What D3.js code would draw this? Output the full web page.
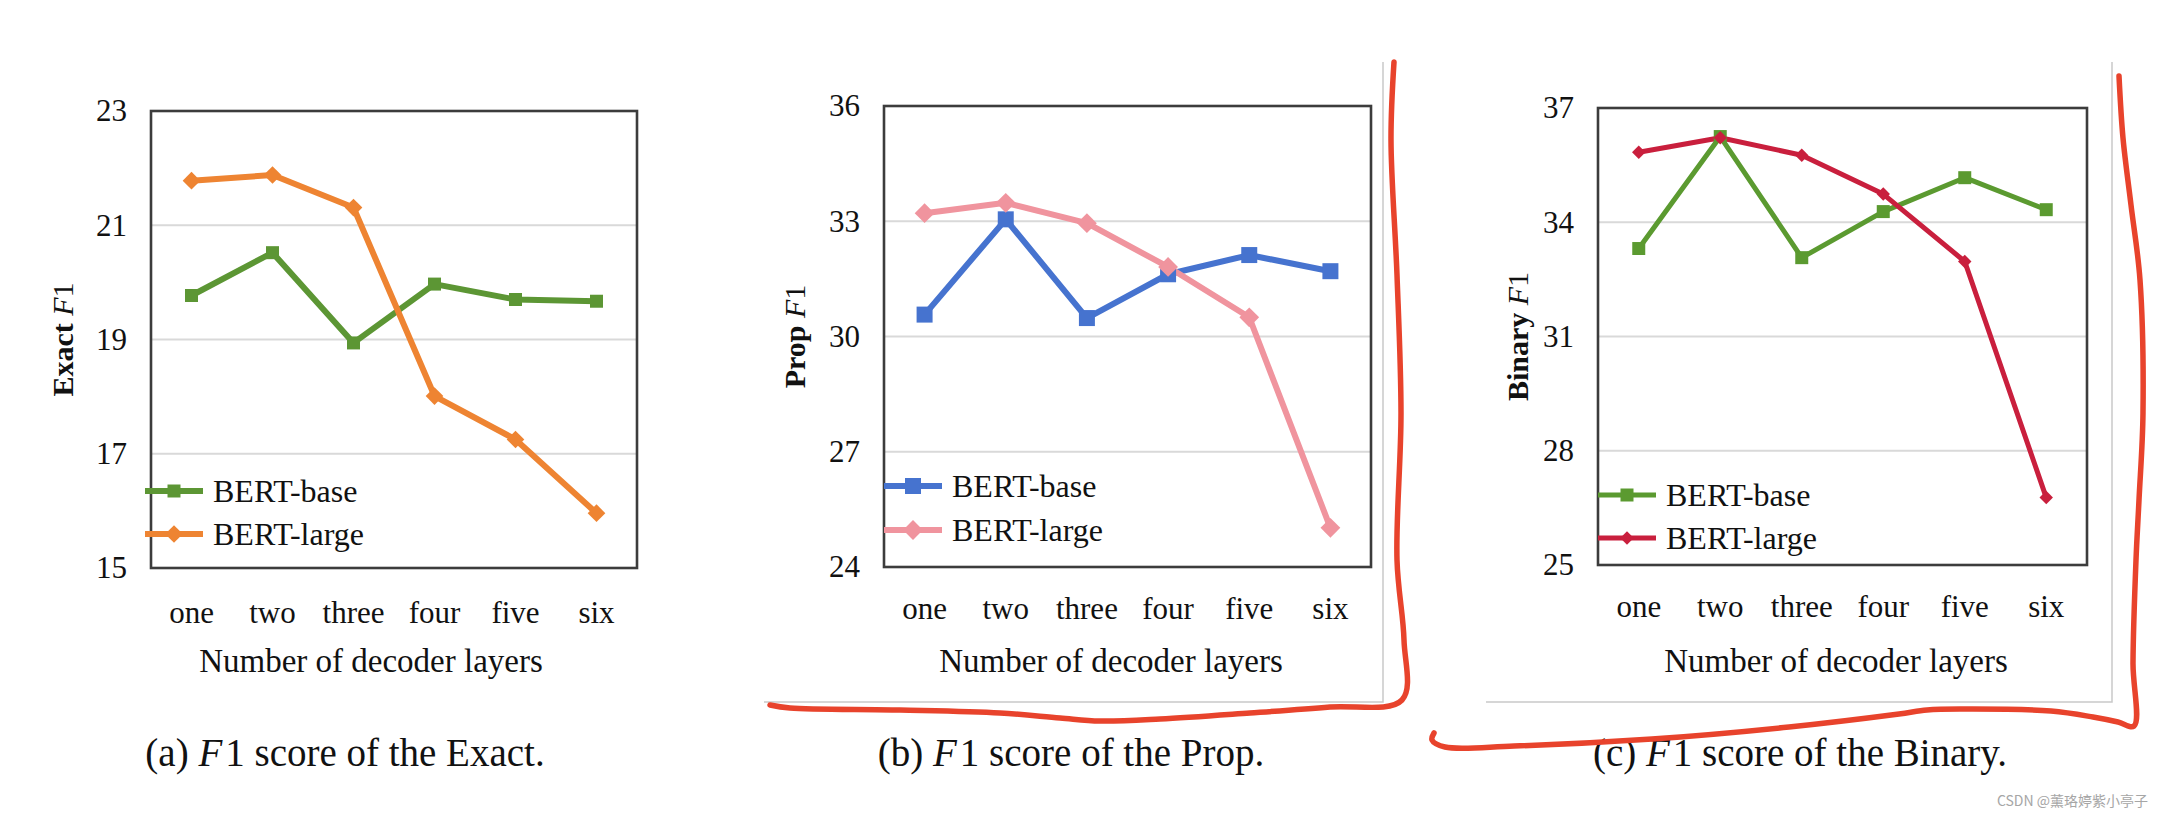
<!DOCTYPE html>
<html>
<head>
<meta charset="utf-8">
<script src="https://cdn.jsdelivr.net/npm/d3@7"></script>
<style>
  html, body { margin: 0; padding: 0; background: #ffffff; }
  svg { display: block; }
  text { font-family: "Times New Roman", "Liberation Serif", serif; fill: #111; }
</style>
</head>
<body>
<svg id="chart" width="2158" height="824"></svg>
<script>
// ---------------- data ----------------
const categories = ["one", "two", "three", "four", "five", "six"];
const seriesNames = ["BERT-base", "BERT-large"];

const exactBase  = [19.77, 20.52, 18.94, 19.97, 19.70, 19.67];
const exactLarge = [21.78, 21.88, 21.31, 18.01, 17.25, 15.96];

const propBase   = [30.57, 33.05, 30.48, 31.62, 32.12, 31.70];
const propLarge  = [33.21, 33.48, 32.95, 31.81, 30.50, 25.02];

const binaryBase  = [33.31, 36.25, 33.07, 34.28, 35.17, 34.33];
const binaryLarge = [35.84, 36.22, 35.76, 34.74, 32.97, 26.77];

const exactTicks  = [15, 17, 19, 21, 23];
const propTicks   = [24, 27, 30, 33, 36];
const binaryTicks = [25, 28, 31, 34, 37];

const yTitles  = ["Exact", "Prop", "Binary"];
const xTitle   = "Number of decoder layers";
const captions = ["(a) ", "(b) ", "(c) "];
const captionTails = ["1 score of the Exact.", "1 score of the Prop.", "1 score of the Binary."];

// ---------------- layout / style ----------------
const panels = [
  { base: exactBase, large: exactLarge, ticks: exactTicks, yTitle: yTitles[0],
    box: { l: 151, r: 637, t: 111, b: 568 },
    colors: ["#5c9634", "#ee8432"], lw: 6, sq: 13, dm: 12.5,
    tickBase: 623, xTitleX: 371, yTitleX: 62, legendY: [491, 534], legendX: 145,
    captionX: 345, frame: null },
  { base: propBase, large: propLarge, ticks: propTicks, yTitle: yTitles[1],
    box: { l: 884, r: 1371, t: 106, b: 567 },
    colors: ["#4673cf", "#f0949e"], lw: 6, sq: 16, dm: 14,
    tickBase: 619, xTitleX: 1111, yTitleX: 794, legendY: [486, 530], legendX: 884,
    captionX: 1071, frame: { l: 764, r: 1383, t: 62, b: 702 } },
  { base: binaryBase, large: binaryLarge, ticks: binaryTicks, yTitle: yTitles[2],
    box: { l: 1598, r: 2087, t: 108, b: 565 },
    colors: ["#5b9a30", "#c91f3d"], lw: 5, sq: 13, dm: 9.5,
    tickBase: 617, xTitleX: 1836, yTitleX: 1517, legendY: [495, 538], legendX: 1598,
    captionX: 1800, frame: { l: 1486, r: 2112, t: 62, b: 702 } }
];

// hand-drawn red annotation strokes (decoration, not data)
const annoStroke1 = [[1394, 62], [1391, 140], [1397, 275], [1401, 413], [1397, 560], [1404, 640],
  [1402, 700], [1330, 707], [1250, 713], [1160, 719], [1100, 721], [1060, 718], [1000, 713],
  [900, 710], [790, 708], [770, 705]];
const annoStroke2 = [[2119, 76], [2123, 138], [2131, 205], [2140, 280], [2143, 413], [2139, 500],
  [2136, 560], [2133, 663], [2134, 726], [2118, 722], [2093, 717], [2051, 711], [1960, 709],
  [1927, 710], [1899, 714], [1789, 727], [1652, 739], [1514, 746], [1445, 747], [1432, 740], [1434, 733]];

const svg = d3.select("#chart");

panels.forEach((p, i) => {
  const g = svg.append("g");
  const x = d3.scaleBand().domain(categories).range([p.box.l, p.box.r]);
  const y = d3.scaleLinear().domain([p.ticks[0], p.ticks[p.ticks.length - 1]]).range([p.box.b, p.box.t]);
  const cx = d => x(d) + x.bandwidth() / 2;

  // outer light chart-area frame (right and bottom edges visible)
  if (p.frame) {
    g.append("path")
      .attr("d", `M${p.frame.r},${p.frame.t}V${p.frame.b}H${p.frame.l}`)
      .attr("fill", "none").attr("stroke", "#c9c9c9").attr("stroke-width", 1.5);
  }

  // gridlines
  g.selectAll(".grid").data(p.ticks.slice(1, -1)).join("line")
    .attr("x1", p.box.l).attr("x2", p.box.r)
    .attr("y1", d => y(d)).attr("y2", d => y(d))
    .attr("stroke", "#d9d9d9").attr("stroke-width", 2.2);

  // y axis labels
  const yAxis = d3.axisLeft(y).tickValues(p.ticks).tickSize(0).tickPadding(24).tickFormat(d3.format("d"));
  const ya = g.append("g").attr("transform", `translate(${p.box.l},0)`).call(yAxis);
  ya.select(".domain").remove();
  ya.selectAll("text").attr("font-size", 31).attr("font-family", '"Times New Roman", "Liberation Serif", serif').attr("fill", "#111");

  // x axis labels
  const xAxis = d3.axisBottom(x).tickSize(0).tickPadding(0);
  const xa = g.append("g").attr("transform", `translate(0,${p.tickBase})`).call(xAxis);
  xa.select(".domain").remove();
  xa.selectAll("text").attr("dy", 0).attr("y", 0).attr("font-size", 31)
    .attr("font-family", '"Times New Roman", "Liberation Serif", serif').attr("fill", "#111");

  // plot box
  g.append("rect")
    .attr("x", p.box.l).attr("y", p.box.t)
    .attr("width", p.box.r - p.box.l).attr("height", p.box.b - p.box.t)
    .attr("fill", "none").attr("stroke", "#3c3c3c").attr("stroke-width", 2.6);

  // lines + markers
  const line = d3.line().x((d, j) => cx(categories[j])).y(d => y(d));
  const sets = [p.base, p.large];
  sets.forEach((vals, k) => {
    g.append("path").datum(vals).attr("d", line)
      .attr("fill", "none").attr("stroke", p.colors[k]).attr("stroke-width", p.lw)
      .attr("stroke-linejoin", "round");
  });
  sets.forEach((vals, k) => {
    const sym = k === 0
      ? d3.symbol(d3.symbolSquare, p.sq * p.sq)
      : d3.symbol(d3.symbolSquare, p.dm * p.dm);
    g.selectAll(null).data(vals).join("path")
      .attr("d", sym)
      .attr("transform", (d, j) => `translate(${cx(categories[j])},${y(d)})` + (k === 1 ? " rotate(45)" : ""))
      .attr("fill", p.colors[k]);
  });

  // legend
  seriesNames.forEach((name, k) => {
    const ly = p.legendY[k];
    const lx = p.legendX;
    g.append("line").attr("x1", lx).attr("x2", lx + 58).attr("y1", ly).attr("y2", ly)
      .attr("stroke", p.colors[k]).attr("stroke-width", p.lw);
    const sym = k === 0 ? d3.symbol(d3.symbolSquare, p.sq * p.sq) : d3.symbol(d3.symbolSquare, p.dm * p.dm);
    g.append("path").attr("d", sym)
      .attr("transform", `translate(${lx + 29},${ly})` + (k === 1 ? " rotate(45)" : ""))
      .attr("fill", p.colors[k]);
    g.append("text").attr("x", lx + 68).attr("y", ly).attr("dy", "0.35em")
      .attr("font-size", 32).text(name);
  });

  // x title
  g.append("text").attr("x", p.xTitleX).attr("y", 672).attr("text-anchor", "middle")
    .attr("font-size", 33).text(xTitle);

  // y title
  const yc = (p.box.t + p.box.b) / 2;
  const yt = g.append("text").attr("transform", `translate(${p.yTitleX},${yc}) rotate(-90)`)
    .attr("text-anchor", "middle").attr("dy", "0.35em").attr("font-size", 30);
  yt.append("tspan").attr("font-weight", "bold").text(p.yTitle + " ");
  yt.append("tspan").attr("font-style", "italic").text("F");
  yt.append("tspan").text("1");

  // caption
  const cap = g.append("text").attr("x", p.captionX).attr("y", 766).attr("text-anchor", "middle")
    .attr("font-size", 39);
  cap.append("tspan").text(captions[i]);
  cap.append("tspan").attr("font-style", "italic").text("F");
  cap.append("tspan").attr("dx", 3).text(captionTails[i]);
});

// red annotation strokes
const annoLine = d3.line().curve(d3.curveCatmullRom.alpha(0.5));
[annoStroke1, annoStroke2].forEach(pts => {
  svg.append("path").attr("d", annoLine(pts))
    .attr("fill", "none").attr("stroke", "#e8432c").attr("stroke-width", 5.5)
    .attr("stroke-linecap", "round").attr("stroke-linejoin", "round");
});

// watermark
svg.append("text").attr("x", 2148).attr("y", 806).attr("text-anchor", "end")
  .attr("font-size", 14).style("font-family", '"Noto Sans CJK SC", "Noto Sans", sans-serif')
  .style("fill", "#a6a6a6").text("CSDN @薰珞婷紫小亭子");
</script>
</body>
</html>
